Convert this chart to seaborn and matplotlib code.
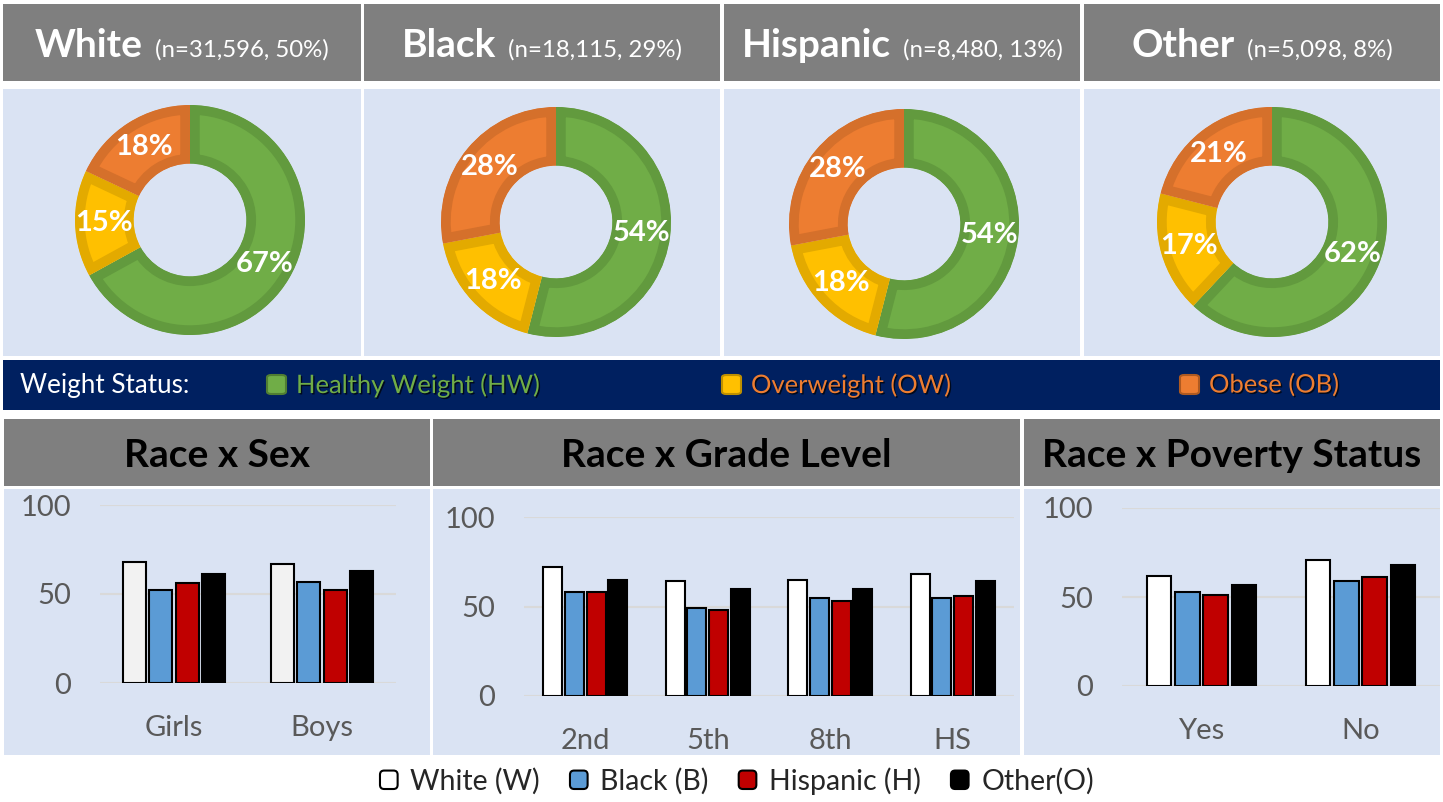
import numpy as np
import pandas as pd
import matplotlib
matplotlib.use('Agg')
import matplotlib.pyplot as plt
import matplotlib.patches as mpatches
import matplotlib.patheffects as pe
from matplotlib.legend_handler import HandlerPatch
import seaborn as sns

# DATA #
races = ['White', 'Black', 'Hispanic', 'Other']
race_n = ['31,596', '18,115', '8,480', '5,098']
race_share = [50, 29, 13, 8]

weight_labels = ['Healthy Weight (HW)', 'Overweight (OW)', 'Obese (OB)']
hw_pct = [67, 54, 54, 62]
ow_pct = [15, 18, 18, 17]
ob_pct = [18, 28, 28, 21]

race_legend = ['White (W)', 'Black (B)', 'Hispanic (H)', 'Other(O)']
panel_titles = ['Race x Sex', 'Race x Grade Level', 'Race x Poverty Status']

sex_cats = ['Girls', 'Boys']
sex_white = [68, 67]
sex_black = [52, 57]
sex_hisp = [56, 52]
sex_other = [61, 63]

grade_cats = ['2nd', '5th', '8th', 'HS']
grade_white = [72, 64, 65, 68]
grade_black = [58, 49, 55, 55]
grade_hisp = [58, 48, 53, 56]
grade_other = [65, 60, 60, 64]

pov_cats = ['Yes', 'No']
pov_white = [62, 71]
pov_black = [53, 59]
pov_hisp = [51, 61]
pov_other = [57, 68]

# STYLE #
sns.set_theme(style='white')
plt.rcParams['font.family'] = ['Lato', 'DejaVu Sans']

W, H = 1443, 802
GREY = '#7f7f7f'
PANEL = '#dae3f3'
NAVY = '#002060'
fills = ['#70ad47', '#ffc000', '#ed7d31']
edges = ['#629a3e', '#e3aa00', '#d5702b']
race_colors = ['#ffffff', '#5b9bd5', '#c00000', '#000000']

fig = plt.figure(figsize=(W / 100, H / 100), dpi=100)
fig.patch.set_facecolor('white')


def frect(x0, y0, x1, y1):
    # pixel box (top-left origin) -> figure fraction rect
    return [x0 / W, 1 - y1 / H, (x1 - x0) / W, (y1 - y0) / H]


def box(x0, y0, x1, y1, color):
    r = frect(x0, y0, x1, y1)
    fig.add_artist(mpatches.Rectangle((r[0], r[1]), r[2], r[3], transform=fig.transFigure,
                                      facecolor=color, edgecolor='none', zorder=0))


top_x = [(3, 361), (364, 720), (724, 1080), (1084, 1440)]
for x0, x1 in top_x:
    box(x0, 4, x1, 81, GREY)
    box(x0, 89, x1, 356, PANEL)
box(3, 360, 1440, 410, NAVY)

bot_x = [(4, 430), (433, 1020), (1024, 1440)]
for x0, x1 in bot_x:
    box(x0, 419, x1, 486, GREY)
    box(x0, 489, x1, 755, PANEL)

renderer = fig.canvas.get_renderer()

# top headers
for i, race in enumerate(races):
    x0, x1 = top_x[i]
    t1 = fig.text(0, 0, race, fontsize=28, fontweight='bold', color='white', va='baseline')
    t2 = fig.text(0, 0, f'(n={race_n[i]}, {race_share[i]}%)', fontsize=17.3, color='white', va='baseline')
    w1 = t1.get_window_extent(renderer).width
    w2 = t2.get_window_extent(renderer).width
    gap = 12
    start = (x0 + x1) / 2 - (w1 + gap + w2) / 2
    t1.set_position((start / W, 1 - 57 / H))
    t2.set_position(((start + w1 + gap) / W, 1 - 57 / H))

# donuts
centers = [(190, 220), (556, 222), (904, 224), (1272, 222)]
R = 115
for i, (cx, cy) in enumerate(centers):
    ax = fig.add_axes(frect(cx - R, cy - R, cx + R, cy + R))
    vals = [hw_pct[i], ow_pct[i], ob_pct[i]]
    wedges, texts, autotexts = ax.pie(
        vals, colors=fills, startangle=90, counterclock=False,
        wedgeprops=dict(width=0.51), autopct='%.0f%%', pctdistance=0.75,
        textprops=dict(color='white', fontsize=21, fontweight='bold'))
    for w, ec in zip(wedges, edges):
        # inner border only: clip each wedge's thick edge to the wedge itself
        w.set_edgecolor(ec)
        w.set_linewidth(14)
        w.set_clip_on(True)
        w.set_clip_path(w)
    ax.set_xlim(-1, 1)
    ax.set_ylim(-1, 1)
    ax.axis('off')

# weight status band
fig.text(20 / W, 1 - 385 / H, 'Weight Status:', fontsize=18.8, color='white', va='center')
sq_x = [267, 722, 1180]
txt_colors = ['#70ad47', '#ed7d31', '#ed7d31']
sq_edges = ['#507e32', '#bf9000', '#ae5a21']
for i, lab in enumerate(weight_labels):
    r = frect(sq_x[i], 375, sq_x[i] + 19, 394)
    fig.add_artist(mpatches.FancyBboxPatch((r[0], r[1]), r[2], r[3], transform=fig.transFigure,
                                           boxstyle='round,pad=0,rounding_size=0.003',
                                           facecolor=fills[i], edgecolor=sq_edges[i], lw=1.5))
    fig.text((sq_x[i] + 29) / W, 1 - 385 / H, lab, fontsize=18.4, color=txt_colors[i], va='center',
             path_effects=[pe.withSimplePatchShadow(offset=(1, -1), shadow_rgbFace='black', alpha=0.7)])

# bottom headers
for (x0, x1), title in zip(bot_x, panel_titles):
    fig.text((x0 + x1) / 2 / W, 1 - 467 / H, title, fontsize=28, fontweight='bold',
             color='black', ha='center', va='baseline')


def bar_panel(rect, cats, white, black, hisp, other, white_color):
    df = pd.DataFrame({
        'cat': cats * 4,
        'race': np.repeat(races, len(cats)),
        'val': white + black + hisp + other,
    })
    pal = dict(zip(races, [white_color] + race_colors[1:]))
    ax = fig.add_axes(rect)
    sns.barplot(data=df, x='cat', y='val', hue='race', palette=pal, hue_order=races,
                order=cats, width=0.71, gap=0.13, edgecolor='black', linewidth=1.5,
                saturation=1, errorbar=None, legend=False, ax=ax)
    ax.set_facecolor('none')
    ax.set_ylim(0, 100)
    ax.set_xlim(-0.5, len(cats) - 0.5)
    ax.set_yticks([0, 50, 100])
    ax.yaxis.grid(True, color='#d9d9d9', lw=1.5)
    ax.set_axisbelow(True)
    for s in ax.spines.values():
        s.set_visible(False)
    ax.set_xlabel('')
    ax.set_ylabel('')
    ax.tick_params(axis='y', length=0, labelsize=21, labelcolor='#595959', pad=21)
    ax.tick_params(axis='x', length=0, labelsize=21, labelcolor='#595959', pad=23)
    return ax


bar_panel(frect(100, 505, 396, 683), sex_cats, sex_white, sex_black, sex_hisp, sex_other, '#f2f2f2')
bar_panel(frect(524, 517, 1014, 696), grade_cats, grade_white, grade_black, grade_hisp, grade_other, '#ffffff')
bar_panel(frect(1122, 508, 1440, 686), pov_cats, pov_white, pov_black, pov_hisp, pov_other, '#ffffff')

# race legend
handles = [mpatches.Patch(facecolor=c, edgecolor='black', lw=1.5) for c in race_colors]


def round_box(legend, orig_handle, xdescent, ydescent, width, height, fontsize):
    return mpatches.FancyBboxPatch((-xdescent, -ydescent), width, height,
                                   boxstyle='round,pad=0,rounding_size=3')


fig.legend(handles, race_legend, loc='center', bbox_to_anchor=(737 / W, 1 - 781 / H), ncol=4,
           frameon=False, fontsize=20.5, handlelength=0.62, handleheight=0.62,
           handletextpad=0.45, columnspacing=1.05,
           handler_map={mpatches.Patch: HandlerPatch(patch_func=round_box)})

fig.savefig('out.png', dpi=100)
